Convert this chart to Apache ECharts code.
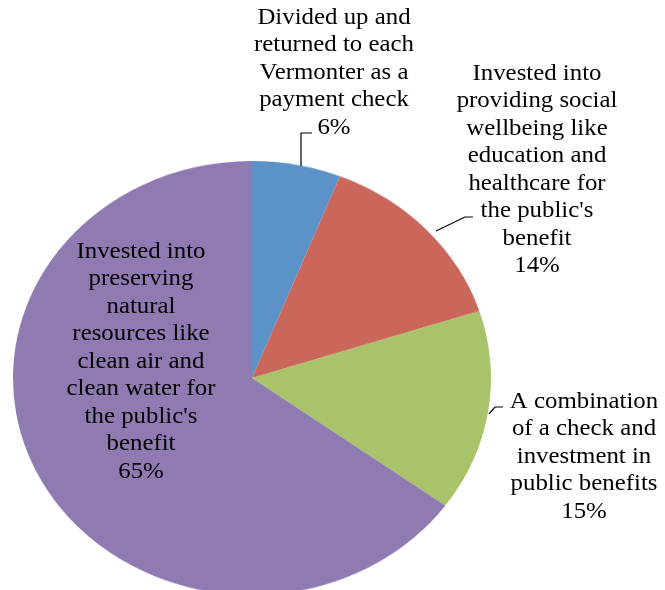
<!DOCTYPE html>
<html>
<head>
<meta charset="utf-8">
<script src="https://cdn.jsdelivr.net/npm/echarts@6/dist/echarts.min.js"></script>
<style>
  html, body { margin: 0; padding: 0; background: #ffffff; }
  #wrap { position: relative; width: 665px; height: 590px; overflow: hidden; }
  #pie { position: absolute; left: 0; top: 0; width: 665px; height: 760px;
         transform-origin: 252px 378px; transform: scaleY(0.908); }
  #labels { position: absolute; left: 0; top: 0; width: 665px; height: 590px; }
</style>
</head>
<body>
<div id="wrap">
  <div id="pie"></div>
  <div id="labels"></div>
</div>
<script>
// ---- data ----
var categories = [
  "Divided up and\nreturned to each\nVermonter as a\npayment check",
  "Invested into\nproviding social\nwellbeing like\neducation and\nhealthcare for\nthe public's\nbenefit",
  "A combination\nof a check and\ninvestment in\npublic benefits",
  "Invested into\npreserving\nnatural\nresources like\nclean air and\nclean water for\nthe public's\nbenefit"
];
var values = [6, 14, 15, 65];
var colors = ["#5B93C9", "#CB665B", "#A9C36A", "#8F7AB2"];

// ---- pie (drawn in a vertically squeezed layer to form the ellipse) ----
var pieChart = echarts.init(document.getElementById('pie'), null, { renderer: 'canvas' });
pieChart.setOption({
  animation: false,
  series: [{
    type: 'pie',
    center: [252, 378],
    radius: [0, 239],
    startAngle: 90,
    clockwise: true,
    avoidLabelOverlap: false,
    label: { show: false },
    labelLine: { show: false },
    itemStyle: { borderWidth: 0 },
    data: values.map(function (v, i) {
      return { value: v, name: categories[i], itemStyle: { color: colors[i] } };
    })
  }]
});

// ---- labels layer ----
var labelPos = [
  { x: 334, y: 4,   anchorLine: [[301, 166], [301, 133], [312, 133]] },
  { x: 537, y: 60,  anchorLine: [[436, 231], [465, 217], [473, 217]] },
  { x: 584, y: 388, anchorLine: [[489, 414], [495, 407], [503, 407]] },
  { x: 141, y: 238, anchorLine: null }
];
var font = '23px "Liberation Serif", "Times New Roman", serif';
var lineH = 27.5;
var graphics = [];
values.forEach(function (v, i) {
  var p = labelPos[i];
  graphics.push({
    type: 'text',
    x: p.x, y: p.y,
    scaleX: 1.08,
    style: {
      text: categories[i] + "\n" + v + "%",
      font: font,
      fill: '#000000',
      align: 'center',
      verticalAlign: 'top',
      lineHeight: lineH
    },
    z: 10
  });
  if (p.anchorLine) {
    graphics.push({
      type: 'polyline',
      shape: { points: p.anchorLine },
      style: { stroke: '#000000', lineWidth: 1.2, fill: null },
      z: 10
    });
  }
});
var labelChart = echarts.init(document.getElementById('labels'), null, { renderer: 'canvas' });
labelChart.setOption({ animation: false, graphic: graphics });
</script>
</body>
</html>
